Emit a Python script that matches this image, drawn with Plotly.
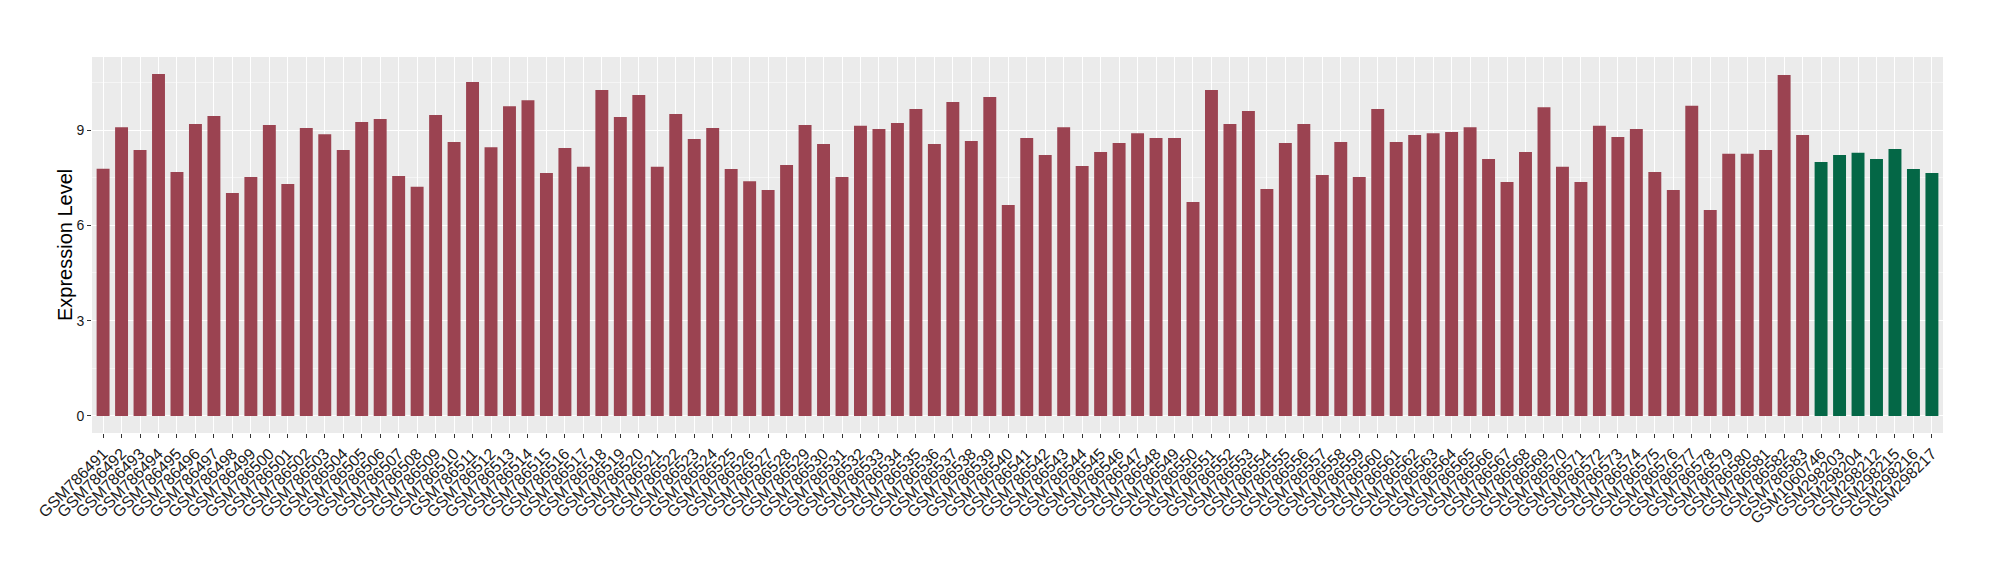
import plotly.graph_objects as go

samples_a = [f"GSM7864{n:02d}" for n in range(91, 100)] + \
            [f"GSM786{n}" for n in range(500, 584)]
samples_b = ["GSM1060746", "GSM298203", "GSM298204", "GSM298212",
             "GSM298215", "GSM298216", "GSM298217"]

values_a = [7.78, 9.09, 8.37, 10.76, 7.68, 9.19, 9.44, 7.02, 7.52, 9.16,
            7.30, 9.06, 8.87, 8.37, 9.25, 9.35, 7.55, 7.21, 9.47, 8.62,
            10.51, 8.46, 9.75, 9.94, 7.65, 8.43, 7.84, 10.26, 9.41, 10.10,
            7.84, 9.50, 8.72, 9.06, 7.77, 7.39, 7.11, 7.90, 9.16, 8.56,
            7.52, 9.13, 9.03, 9.22, 9.66, 8.56, 9.88, 8.65, 10.04, 6.64,
            8.75, 8.21, 9.09, 7.87, 8.31, 8.59, 8.90, 8.75, 8.75, 6.73,
            10.26, 9.19, 9.60, 7.14, 8.59, 9.19, 7.58, 8.62, 7.52, 9.66,
            8.62, 8.84, 8.90, 8.94, 9.09, 8.09, 7.36, 8.31, 9.72, 7.84,
            7.36, 9.13, 8.78, 9.03, 7.68, 7.11, 9.76, 6.48, 8.25, 8.25,
            8.37, 10.73, 8.84]
values_b = [7.99, 8.21, 8.28, 8.09, 8.40, 7.77, 7.65]

y_ticks = [0, 3, 6, 9]
y_minor = [1.5, 4.5, 7.5, 10.5]

color_a = "#9B4351"
color_b = "#046746"

categories = samples_a + samples_b
values = values_a + values_b
colors = [color_a] * len(values_a) + [color_b] * len(values_b)

vmax = max(values)

fig = go.Figure(go.Bar(
    x=categories, y=values, marker=dict(color=colors, line=dict(width=0)),
    showlegend=False,
))

fig.update_layout(
    width=1984, height=564,
    margin=dict(l=84, r=49, t=49, b=139),
    paper_bgcolor="white", plot_bgcolor="#EBEBEB",
    bargap=0.3,
    font=dict(family="Liberation Sans, Arial, sans-serif", color="#1A1A1A"),
    annotations=[dict(
        text="Expression Level", textangle=-90,
        xref="paper", yref="paper", x=0, y=0.5,
        xanchor="center", yanchor="middle", xshift=-27, showarrow=False,
        font=dict(size=20, color="#000000"),
    )],
)
fig.update_xaxes(
    type="category", range=[-0.6, len(categories) - 0.4],
    tickmode="array", tickvals=categories, ticktext=categories,
    tickangle=-45, tickfont=dict(size=16, color="#1A1A1A"),
    showgrid=True, gridcolor="white", gridwidth=1.1,
    ticks="outside", ticklen=4, tickcolor="#333333", tickwidth=1,
    showline=False, zeroline=False, automargin=False,
)
fig.update_yaxes(
    range=[-0.05 * vmax, 1.05 * vmax],
    tickvals=y_ticks, ticktext=[str(v) for v in y_ticks],
    tickfont=dict(size=14, color="#1A1A1A"),
    showgrid=True, gridcolor="white", gridwidth=1.1,
    minor=dict(tickvals=y_minor, showgrid=True,
               gridcolor="#F5F5F5", gridwidth=0.8, ticks=""),
    ticks="outside", ticklen=4, tickcolor="#333333", tickwidth=1,
    zeroline=False, showline=False, automargin=False,
)

fig.write_html("out.html")
